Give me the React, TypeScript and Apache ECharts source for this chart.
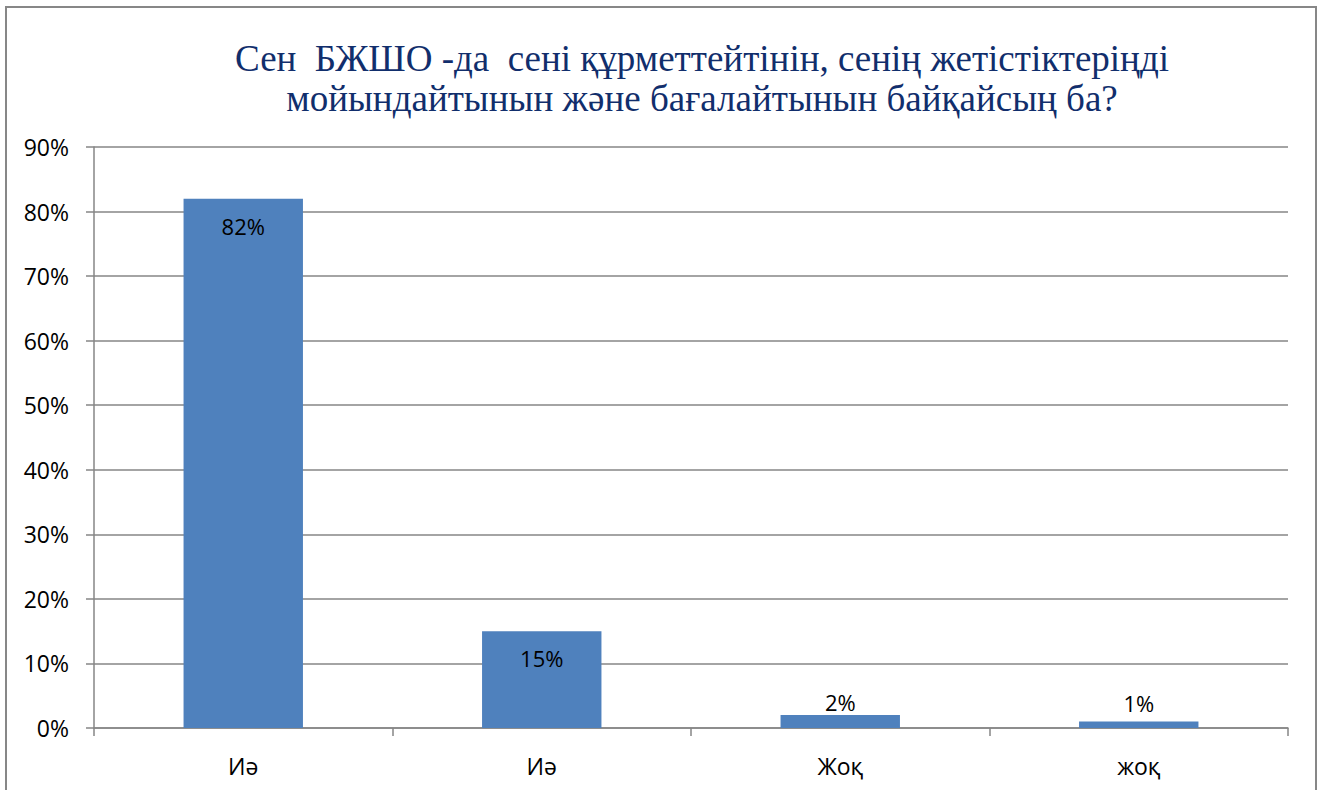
import React, { useEffect, useRef } from "react";
import * as echarts from "echarts";

const titleLines = [
  "Сен  БЖШО -да  сені құрметтейтінін, сенің жетістіктеріңді",
  "мойындайтынын және бағалайтынын байқайсың ба?",
];
const categories = ["Иә", "Иә", "Жоқ", "жоқ"];
const values = [82, 15, 2, 1];
const insideLabel = [true, true, false, false];

export default function App() {
  const ref = useRef<HTMLDivElement>(null);
  useEffect(() => {
    const chart = echarts.init(ref.current!, null, { renderer: "svg" });
    const axisGray = "#868686";
    const sans = "Open Sans, Liberation Sans, sans-serif";
    const labelDistance = [16, 16, 2, 8];
    chart.setOption({
      animation: false,
      backgroundColor: "#ffffff",
      title: {
        text: titleLines.join("\n"),
        left: 697,
        top: 33,
        textAlign: "center",
        textStyle: {
          fontFamily: "Liberation Serif",
          fontSize: 37,
          fontWeight: "normal",
          color: "#112E6C",
          lineHeight: 40,
        },
      },
      graphic: [
        {
          type: "rect",
          shape: { x: 6, y: 7, width: 1310, height: 800 },
          style: { fill: "none", stroke: "#878787", lineWidth: 2 },
          silent: true,
        },
      ],
      grid: { left: 94, right: 31, top: 147, bottom: 62 },
      xAxis: {
        type: "category",
        data: categories,
        axisLine: { lineStyle: { color: axisGray, width: 1.5 } },
        axisTick: { show: true, length: 8, alignWithLabel: false, lineStyle: { color: axisGray, width: 1.5 } },
        axisLabel: {
          margin: 26,
          fontFamily: sans,
          fontSize: 23,
          color: "#000",
        },
      },
      yAxis: {
        type: "value",
        min: 0,
        max: 90,
        interval: 10,
        axisLine: { show: true, lineStyle: { color: axisGray, width: 1.5 } },
        axisTick: { show: true, length: 8, lineStyle: { color: axisGray, width: 1.5 } },
        splitLine: { lineStyle: { color: axisGray, width: 1.5 } },
        axisLabel: {
          margin: 25,
          formatter: "{value}%",
          fontFamily: sans,
          fontSize: 23,
          color: "#000",
        },
      },
      series: [
        {
          type: "bar",
          barWidth: "40%",
          itemStyle: { color: "#4F81BD" },
          data: values.map((v, i) => ({
            value: v,
            label: {
              show: true,
              position: insideLabel[i] ? "insideTop" : "top",
              distance: labelDistance[i],
              formatter: "{c}%",
              fontFamily: sans,
              fontSize: 22,
              color: "#000",
            },
          })),
        },
      ],
    });
    return () => chart.dispose();
  }, []);
  return (
    <div
      ref={ref}
      style={{ position: "absolute", left: 0, top: 0, width: 1319, height: 790 }}
    />
  );
}
